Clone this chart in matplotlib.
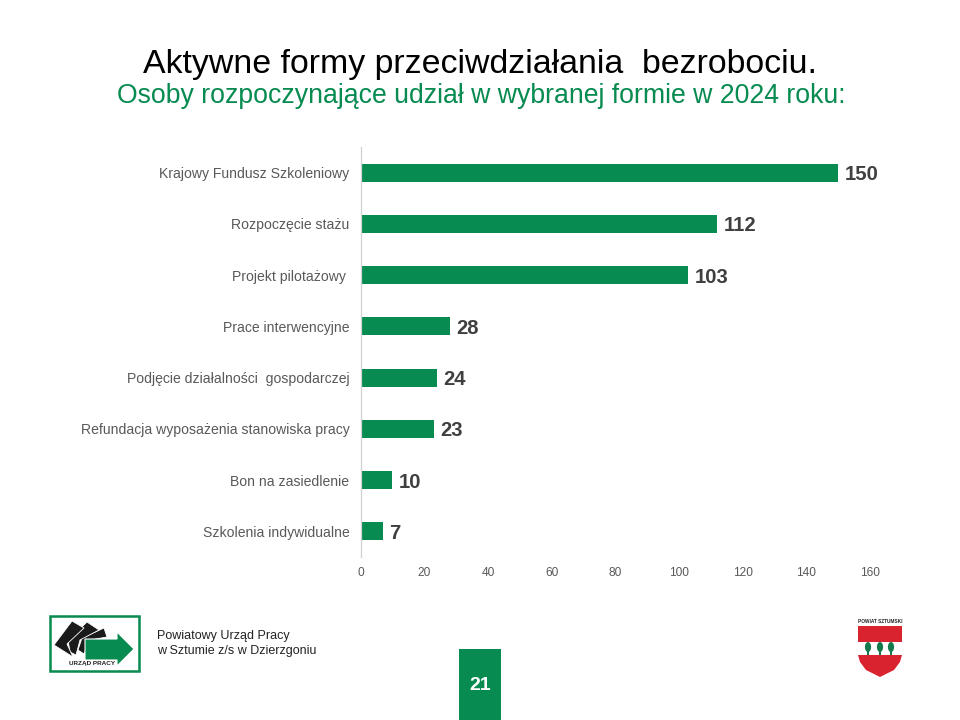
import matplotlib
matplotlib.use("Agg")
import matplotlib.pyplot as plt
from matplotlib.patches import Polygon, Rectangle, Ellipse

plt.rcParams['font.family'] = ['Liberation Sans', 'DejaVu Sans']

categories = ["Krajowy Fundusz Szkoleniowy", "Rozpoczęcie stażu", "Projekt pilotażowy ",
              "Prace interwencyjne", "Podjęcie działalności  gospodarczej",
              "Refundacja wyposażenia stanowiska pracy", "Bon na zasiedlenie",
              "Szkolenia indywidualne"]
values = [150, 112, 103, 28, 24, 23, 10, 7]
xticks = [0, 20, 40, 60, 80, 100, 120, 140, 160]

GREEN = "#078B50"
W, H = 960, 720
fig = plt.figure(figsize=(9.6, 7.2), dpi=100, facecolor="white")

# Chart
L, R, T, B = 360.5, 870, 147, 557
ax = fig.add_axes([L / W, 1 - B / H, (R - L) / W, (B - T) / H])
y = list(range(len(values)))
ax.barh(y, values, height=0.35, color=GREEN)
ax.set_ylim(len(values) - 0.5, -0.5)
ax.set_xlim(0, 160)
ax.set_yticks(y, categories, fontsize=10.1, color="#595959")
ax.set_xticks(xticks, [str(t) for t in xticks], fontsize=8.6, color="#595959")
ax.tick_params(length=0)
ax.tick_params(axis="y", pad=8)
ax.tick_params(axis="x", pad=7)
for s in ("top", "right", "bottom"):
    ax.spines[s].set_visible(False)
ax.spines["left"].set_color("#D0D0D0")
ax.spines["left"].set_linewidth(0.9)
for yi, v in zip(y, values):
    ax.annotate(str(v), (v, yi), xytext=(4.5, -1.5), textcoords="offset points",
                va="center", ha="left", fontsize=14.6, fontweight="bold", color="#404040")

# Page overlay in pixel coordinates
ov = fig.add_axes([0, 0, 1, 1], zorder=5)
ov.set_xlim(0, W)
ov.set_ylim(H, 0)
ov.axis("off")

ov.text(480, 64, "Aktywne formy przeciwdziałania  bezrobociu.", ha="center", va="center",
        fontsize=24.4, color="black")
ov.text(481.5, 96, "Osoby rozpoczynające udział w wybranej formie w 2024 roku:", ha="center",
        va="center", fontsize=19.2, color=GREEN)

# Page number
ov.add_patch(Rectangle((459, 649), 42, 71, color=GREEN, lw=0))
ov.text(480, 686, "21", ha="center", va="center", fontsize=14, fontweight="bold", color="white")

# Office logo
ov.add_patch(Rectangle((49.5, 616), 89, 55, fc="white", ec=GREEN, lw=1.8))
cards = [
    [(82, 638), (104, 628), (107, 637), (90, 640), (84, 654), (78, 650)],
    [(68, 640), (87, 622), (99, 630), (80, 640), (76, 655), (70, 652)],
    [(54, 645), (72, 621), (84, 628), (67, 644), (73, 657)],
]
for c in cards:
    ov.add_patch(Polygon(c, fc="#1a1a1a", ec="white", lw=0.6))
ov.add_patch(Polygon([(85, 639), (117, 639), (117, 632), (134, 649), (117, 666), (117, 660),
                      (85, 660)], fc=GREEN, ec="white", lw=0.8))
ov.text(92, 663.5, "URZĄD PRACY", ha="center", va="center", fontsize=4.6, fontweight="bold",
        color="#222222", zorder=6)
ov.text(157, 636, "Powiatowy Urząd Pracy", ha="left", va="center", fontsize=9, color="#222222")
ov.text(157, 651, "w Sztumie z/s w Dzierzgoniu", ha="left", va="center", fontsize=9, color="#222222")

# Coat of arms
RED = "#D9232E"
ov.text(880, 621.5, "POWIAT SZTUMSKI", ha="center", va="center", fontsize=3.4, fontweight="bold",
        color="#222222")
ov.add_patch(Polygon([(858, 626), (902, 626), (902, 655), (900, 662), (894, 670), (880, 677),
                      (866, 670), (860, 662), (858, 655)], fc=RED, ec="none"))
ov.add_patch(Rectangle((858, 642), 44, 13, fc="white", ec="none"))
for cx in (868, 880, 891):
    ov.add_patch(Rectangle((cx - 0.6, 650), 1.2, 5, fc="#137A4B", ec="none"))
    ov.add_patch(Ellipse((cx, 647), 6.2, 10, fc="#137A4B", ec="none"))

fig.savefig("out.png", dpi=100)
